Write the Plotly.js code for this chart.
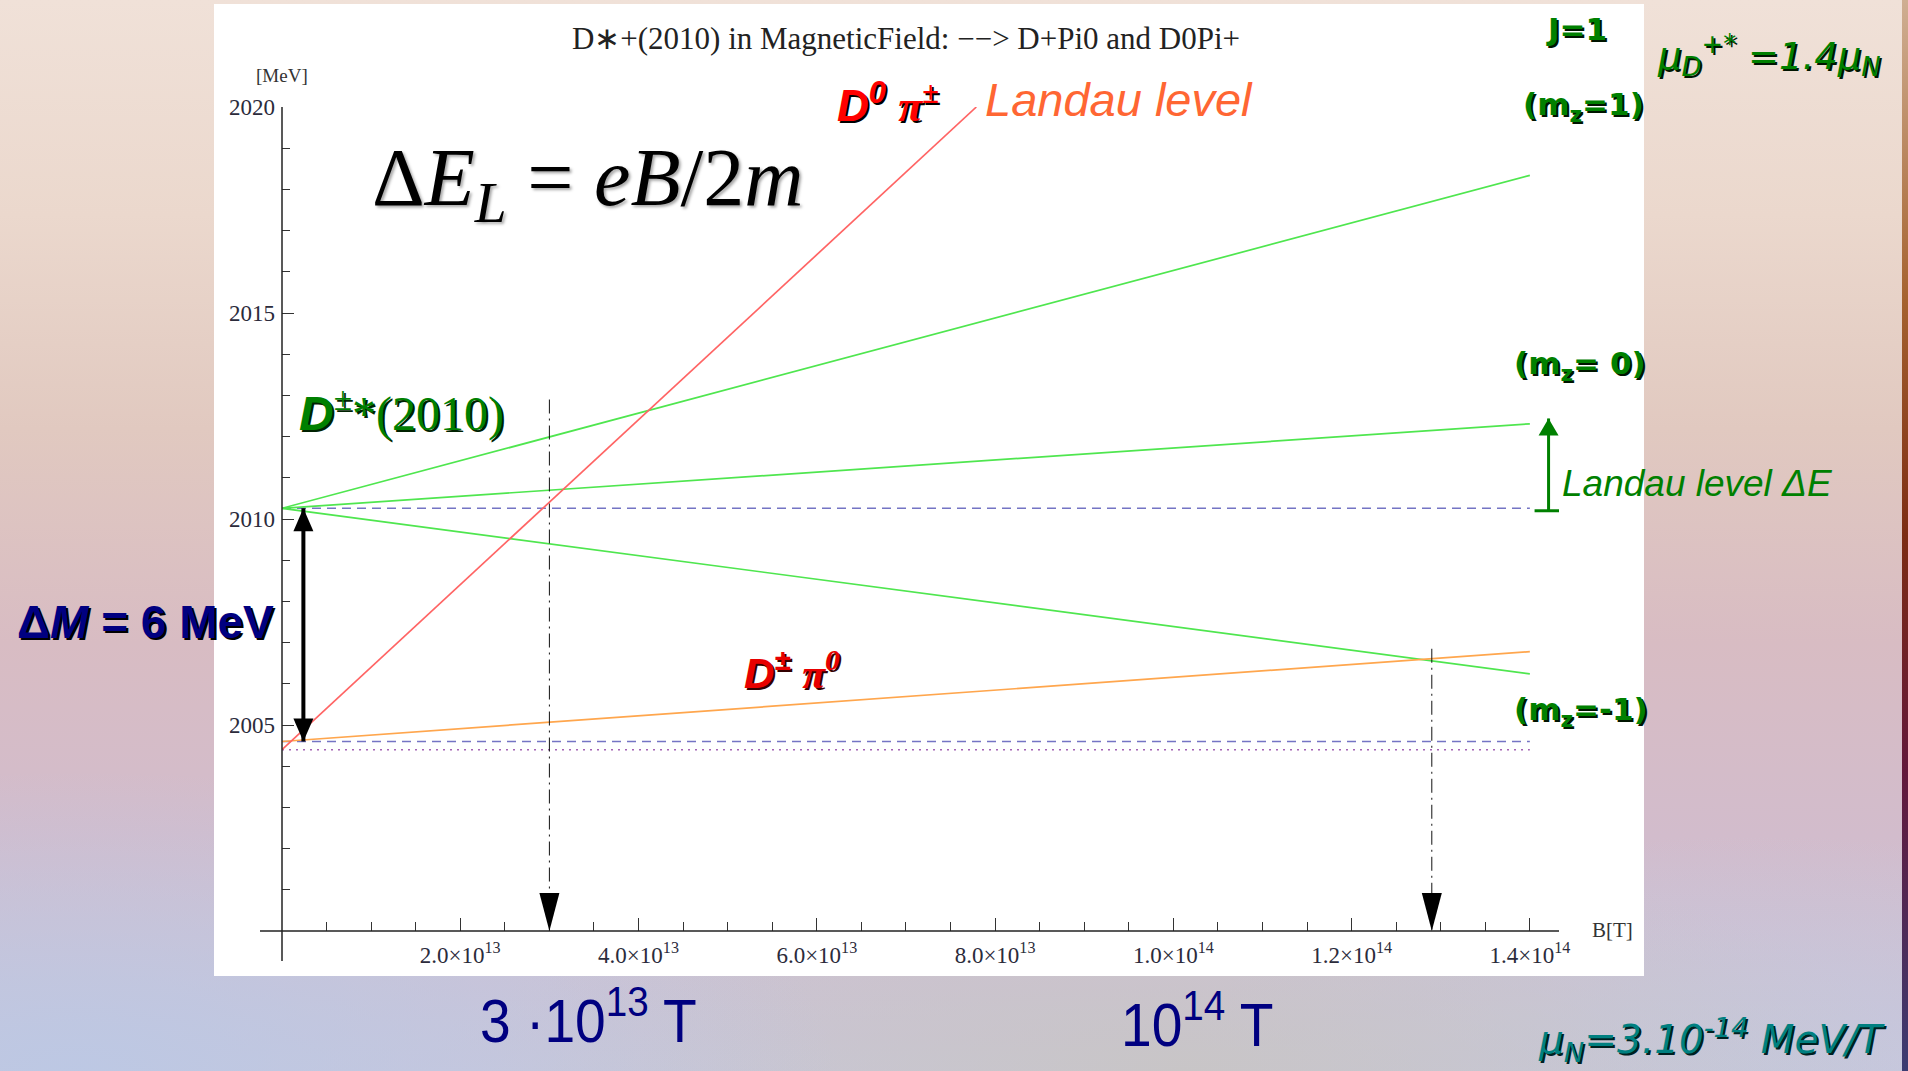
<!DOCTYPE html>
<html>
<head>
<meta charset="utf-8">
<script src="https://cdn.plot.ly/plotly-3.0.1.min.js"></script>
<style>
  html, body { margin: 0; padding: 0; width: 1908px; height: 1071px; overflow: hidden; }
  body {
    position: relative;
    background:
      radial-gradient(ellipse 40% 28% at 4% 100%, rgba(188,200,228,0.95), rgba(188,200,228,0) 100%),
      radial-gradient(ellipse 38% 22% at 62% 100%, rgba(200,197,194,0.8), rgba(200,197,194,0) 100%),
      radial-gradient(ellipse 30% 22% at 92% 100%, rgba(196,200,222,0.8), rgba(196,200,222,0) 100%),
      linear-gradient(to bottom, #f0e1d8 0%, #ebd8cd 20%, #e1c9c0 40%, #d8bcc3 60%, #d2bccc 78%, #c9c6da 100%);
  }
  #panel { position: absolute; left: 214px; top: 4px; width: 1430px; height: 972px; background: #ffffff; }
  #edge { position: absolute; right: 0; top: 0; width: 6px; height: 1071px;
          background: linear-gradient(to bottom, #cfae92 0%, #a5622f 28%, #7c2c14 50%, #62183a 72%, #3c3c72 100%); }
  #chart { position: absolute; left: 0; top: 0; width: 1908px; height: 1071px; }
</style>
</head>
<body>
<div id="panel"></div>
<div id="edge"></div>
<div id="chart"></div>
<script>
// ---- field values [T] and level energies [MeV] ----
const fieldB = [0, 1.4e14];
const levelMz1 = [2010.26, 2018.34];   // m_z = +1
const levelMz0 = [2010.26, 2012.31];   // m_z = 0
const levelMzm1 = [2010.26, 2006.24];  // m_z = -1
const levelDPi0 = [2004.6, 2006.78];   // D± π0 Landau level
const fieldD0Pi = [0, 7.79e13];
const levelD0Pi = [2004.4, 2020];      // D0 π± Landau level
const dStarMass = 2010.26;
const thresholdDPi0 = 2004.6;
const thresholdD0Pi = 2004.4;

// crossing markers (dash-dot drop lines)
const crossB = [3.0e13, 1.29e14];
const crossE = [2012.9, 2006.85];

// ΔM arrow and Landau ΔE arrow
const deltaMB = 0.24e13;
const deltaME = [thresholdDPi0, dStarMass];
const landauB = 1.421e14;
const landauE = [2010.2, 2012.44];

// ticks
const bTicks = [2e13, 4e13, 6e13, 8e13, 1e14, 1.2e14, 1.4e14];
const bTickText = ['2.0×10<sup>13</sup>', '4.0×10<sup>13</sup>', '6.0×10<sup>13</sup>', '8.0×10<sup>13</sup>',
                   '1.0×10<sup>14</sup>', '1.2×10<sup>14</sup>', '1.4×10<sup>14</sup>'];
const eTicks = [2005, 2010, 2015, 2020];
const eTickText = ['2005', '2010', '2015', '2020'];

// ---- frame geometry (pixels) ----
const W = 1908, H = 1071;
const PL = 282, PR = 1559, PT = 107, PB = 931;
const px = p => (p - PL) / (PR - PL);
const py = p => (PB - p) / (PB - PT);

const bMinor = [];
for (let b = 0; b <= 1.43e14; b += 5e12) bMinor.push(b);
const eMinor = [];
for (let e = 2000; e <= 2020; e += 1) eMinor.push(e);

const green = '#4fe64f';
const traces = [];
function line(x, y, color, width, dash) {
  traces.push({ x: x, y: y, type: 'scatter', mode: 'lines', hoverinfo: 'skip', showlegend: false,
                line: { color: color, width: width, dash: dash || 'solid' } });
}
// thresholds
line(fieldB, [dStarMass, dStarMass], '#7474c4', 1.5, '9px,6px');
line(fieldB, [thresholdDPi0, thresholdDPi0], '#7474c4', 1.5, '9px,6px');
line(fieldB, [thresholdD0Pi, thresholdD0Pi], '#a465b4', 1.5, '2px,5px');
// levels
line(fieldB, levelMz1, green, 1.7);
line(fieldB, levelMz0, green, 1.7);
line(fieldB, levelMzm1, green, 1.7);
line(fieldB, levelDPi0, '#ffa64d', 1.7);
line(fieldD0Pi, levelD0Pi, '#ff6464', 1.7);
// drop lines
crossB.forEach((b, i) => line([b, b], [crossE[i], 2000], '#111', 1, '14px,5px,2px,5px'));
// arrows' shafts
line([deltaMB, deltaMB], deltaME, '#000', 4);
line([landauB, landauB], landauE, '#008000', 3);

const shapes = [
  // axes
  { type: 'line', xref: 'paper', yref: 'paper', x0: px(260), x1: 1, y0: 0, y1: 0, line: { color: '#222', width: 1.5 } },
  { type: 'line', xref: 'paper', yref: 'paper', x0: 0, x1: 0, y0: py(961), y1: 1, line: { color: '#222', width: 1.5 } }
];
function head(b, e, path, color) {
  shapes.push({ type: 'path', xref: 'x', yref: 'y', xsizemode: 'pixel', ysizemode: 'pixel',
                xanchor: b, yanchor: e, path: path, fillcolor: color, line: { width: 0 } });
}
crossB.forEach(b => head(b, 2000, 'M0,0 L-10,38 L10,38 Z', '#000'));
head(deltaMB, deltaME[1], 'M0,0 L-10,-23 L10,-23 Z', '#000');
head(deltaMB, deltaME[0], 'M0,0 L-10,23 L10,23 Z', '#000');
head(landauB, landauE[1], 'M0,0 L-10,-17 L10,-17 Z', '#008000');
shapes.push({ type: 'line', xref: 'x', yref: 'y', xsizemode: 'pixel', xanchor: landauB, x0: -14, x1: 14,
              y0: landauE[0], y1: landauE[0], line: { color: '#008000', width: 3 } });

const SANS = 'Liberation Sans, Arial, sans-serif';
const SERIF = 'Liberation Serif, Times New Roman, serif';
const TAHOMA = 'DejaVu Sans, Verdana, sans-serif';
const anns = [];
function label(text, x, y, xanchor, font, name) {
  anns.push({ text: text, xref: 'paper', yref: 'paper', x: px(x), y: py(y), xanchor: xanchor, yanchor: 'middle',
              showarrow: false, font: font, name: name || '' });
}
label('[MeV]', 282, 75, 'center', { family: SERIF, size: 19, color: '#333' });
label('B[T]', 1590, 930, 'left', { family: SERIF, size: 21, color: '#333' });
label('Δ<i>E</i><sub><i>L</i></sub> = <i>eB</i>/2<i>m</i>', 370, 183, 'left',
      { family: SERIF, size: 82, color: '#000', shadow: '2px 2px 3px rgba(0,0,0,0.35)' });
label("D<sup>0</sup> <span style='font-family:Liberation Serif'>π<sup>±</sup></span>", 835, 103, 'left',
      { family: SANS, size: 44, color: '#ff0000', weight: 700, style: 'italic', shadow: '2px 2px 0 #000' });
label('Landau level', 983, 100, 'left', { family: SANS, size: 47, color: '#ff6633', style: 'italic' });
label("<b><i>D</i></b><span style='font-family:Liberation Serif'><sup>±</sup>*(2010)</span>", 297, 410, 'left',
      { family: SANS, size: 48, color: '#008000', shadow: '2px 2px 0 #002200' });
label("<i>D</i><sup>±</sup> <span style='font-family:Liberation Serif'>π<sup>0</sup></span>", 742, 670, 'left',
      { family: SANS, size: 42, color: '#e80000', weight: 700, style: 'italic', shadow: '2px 2px 0 #330000' });
label('Δ<i>M</i> = 6 MeV', 15, 622, 'left',
      { family: SANS, size: 46, color: '#000080', weight: 700, shadow: '2px 2px 0 #000' });
const mzFont = { family: TAHOMA, size: 31, color: '#008000', weight: 700, shadow: '2px 2px 0 #001500' };
label('J=1', 1576, 29, 'center', mzFont);
label('(m<sub>z</sub>=1)', 1521, 106, 'left', mzFont);
label('(m<sub>z</sub>= 0)', 1512, 365, 'left', mzFont);
label('(m<sub>z</sub>=-1)', 1512, 711, 'left', mzFont);
label('μ<sub>D</sub><sup>+*</sup> =1.4μ<sub>N</sub>', 1655, 55, 'left',
      { family: TAHOMA, size: 37, color: '#008000', style: 'italic', shadow: '2px 2px 0 #001500' });
label('Landau level ΔE', 1560, 484, 'left', { family: SANS, size: 37, color: '#008000', style: 'italic' });
label('μ<sub>N</sub>=3.10<sup>-14</sup> MeV/T', 1536, 1040, 'left',
      { family: TAHOMA, size: 39, color: '#008080', style: 'italic', shadow: '2px 2px 0 #002020' });
label('3 ·10<sup>13</sup> T', 478, 1016, 'left', { family: SANS, size: 62, color: '#000080' }, 'narrow');
label('10<sup>14</sup> T', 1119, 1020, 'left', { family: SANS, size: 62, color: '#000080' }, 'narrow');

const layout = {
  width: W, height: H, autosize: false,
  margin: { l: PL, r: W - PR, t: PT, b: H - PB, pad: 0 },
  paper_bgcolor: 'rgba(0,0,0,0)', plot_bgcolor: 'rgba(0,0,0,0)',
  showlegend: false,
  title: { text: 'D∗+(2010) in MagneticField: −−> D+Pi0 and D0Pi+', xref: 'container', yref: 'container',
           x: 906 / W, y: 1 - 38 / H, xanchor: 'center', yanchor: 'middle',
           font: { family: SERIF, size: 31, color: '#222' } },
  xaxis: {
    range: [0, 1.4327e14], showgrid: false, zeroline: false, showline: false,
    tickmode: 'array', tickvals: bTicks, ticktext: bTickText,
    ticks: 'inside', ticklen: 13, tickwidth: 1, tickcolor: '#333', ticklabelstandoff: 8,
    tickfont: { family: SERIF, size: 23, color: '#2b2b3b' },
    minor: { tickmode: 'array', tickvals: bMinor, ticks: 'inside', ticklen: 9, tickwidth: 1, tickcolor: '#333', showgrid: false }
  },
  yaxis: {
    range: [2000, 2020], showgrid: false, zeroline: false, showline: false,
    tickmode: 'array', tickvals: eTicks, ticktext: eTickText,
    ticks: 'inside', ticklen: 12, tickwidth: 1, tickcolor: '#333', ticklabelstandoff: 6,
    tickfont: { family: SERIF, size: 23, color: '#2b2b3b' },
    minor: { tickmode: 'array', tickvals: eMinor, ticks: 'inside', ticklen: 8, tickwidth: 1, tickcolor: '#333', showgrid: false }
  },
  shapes: shapes,
  annotations: anns
};

Plotly.newPlot('chart', traces, layout, { staticPlot: true, displayModeBar: false }).then(gd => {
  // condense the two field-value captions horizontally
  const texts = gd.querySelectorAll('.annotation');
  texts.forEach((g, i) => {
    if (gd.layout.annotations[i] && gd.layout.annotations[i].name === 'narrow') {
      const t = g.querySelector('text');
      if (t) {
        t.style.transformBox = 'fill-box';
        t.style.transformOrigin = '0 50%';
        t.style.transform = 'scaleX(0.89)';
      }
    }
  });
});
</script>
</body>
</html>
